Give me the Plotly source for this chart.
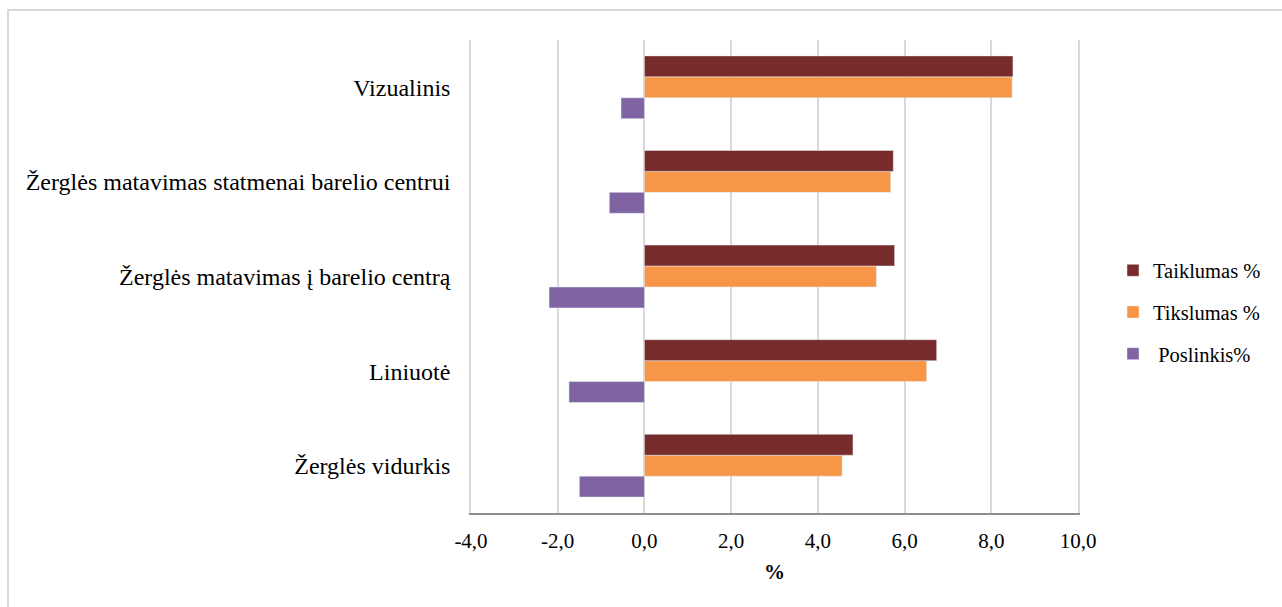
import plotly.graph_objects as go

# Categories listed bottom-to-top as they appear on the vertical axis
categories = [
    "Žerglės vidurkis",
    "Liniuotė",
    "Žerglės matavimas į barelio centrą",
    "Žerglės matavimas statmenai barelio centrui",
    "Vizualinis",
]
taiklumas = [4.81, 6.74, 5.77, 5.74, 8.50]
tikslumas = [4.56, 6.51, 5.35, 5.68, 8.48]
poslinkis = [-1.50, -1.74, -2.20, -0.81, -0.54]

x_tick_vals = [-4, -2, 0, 2, 4, 6, 8, 10]
x_tick_text = ["-4,0", "-2,0", "0,0", "2,0", "4,0", "6,0", "8,0", "10,0"]

FONT = "Liberation Serif, Times New Roman, serif"

W, H = 1282, 607
ML, MR, MT, MB = 471, 204, 40, 94

fig = go.Figure()
# Added bottom-up so the first series ends up on top of each group
fig.add_trace(go.Bar(y=categories, x=poslinkis, orientation="h", name=" Poslinkis%",
                     marker_color="#8064A2", legendgroup="c", legendrank=3))
fig.add_trace(go.Bar(y=categories, x=tikslumas, orientation="h", name="Tikslumas %",
                     marker_color="#F79646", legendgroup="b", legendrank=2))
fig.add_trace(go.Bar(y=categories, x=taiklumas, orientation="h", name="Taiklumas %",
                     marker_color="#772B2B", legendgroup="a", legendrank=1))

pw = W - ML - MR
ph = H - MT - MB


def px_x(p):
    return (p - ML) / pw


def px_y(p):
    return (H - MB - p) / ph


fig.update_layout(
    width=W, height=H,
    margin=dict(l=ML, r=MR, t=MT, b=MB),
    paper_bgcolor="white", plot_bgcolor="white",
    barmode="group", bargap=0.336, bargroupgap=0,
    font=dict(family=FONT, size=20, color="#000000"),
    xaxis=dict(
        range=[-4, 10], tickvals=x_tick_vals, ticktext=x_tick_text,
        showgrid=True, gridcolor="#d9d9d9", gridwidth=1.5,
        zeroline=False, showline=True, linecolor="#8e8e8e", linewidth=1.5,
        ticks="", tickfont=dict(size=21, family=FONT), ticklabelstandoff=8,
        title=dict(text="<b>%</b>", font=dict(size=21, family=FONT), standoff=12),
        fixedrange=True,
    ),
    yaxis=dict(
        showgrid=False, zeroline=False, ticks="",
        showline=True, mirror=True, linecolor="#d9d9d9", linewidth=1.5,
        tickfont=dict(size=24, family=FONT), ticklabelstandoff=14,
        fixedrange=True,
    ),
    legend=dict(
        x=px_x(1113), y=px_y(312), xanchor="left", yanchor="middle",
        traceorder="grouped", tracegroupgap=12,
        font=dict(size=20.5, family=FONT, color="#000000"), bgcolor="rgba(0,0,0,0)",
    ),
    shapes=[dict(
        type="rect", xref="paper", yref="paper",
        x0=px_x(8), x1=px_x(1290), y0=px_y(625), y1=px_y(10),
        line=dict(color="#d9d9d9", width=2), fillcolor="rgba(0,0,0,0)", layer="below",
    )],
)

fig.write_html("out.html")
